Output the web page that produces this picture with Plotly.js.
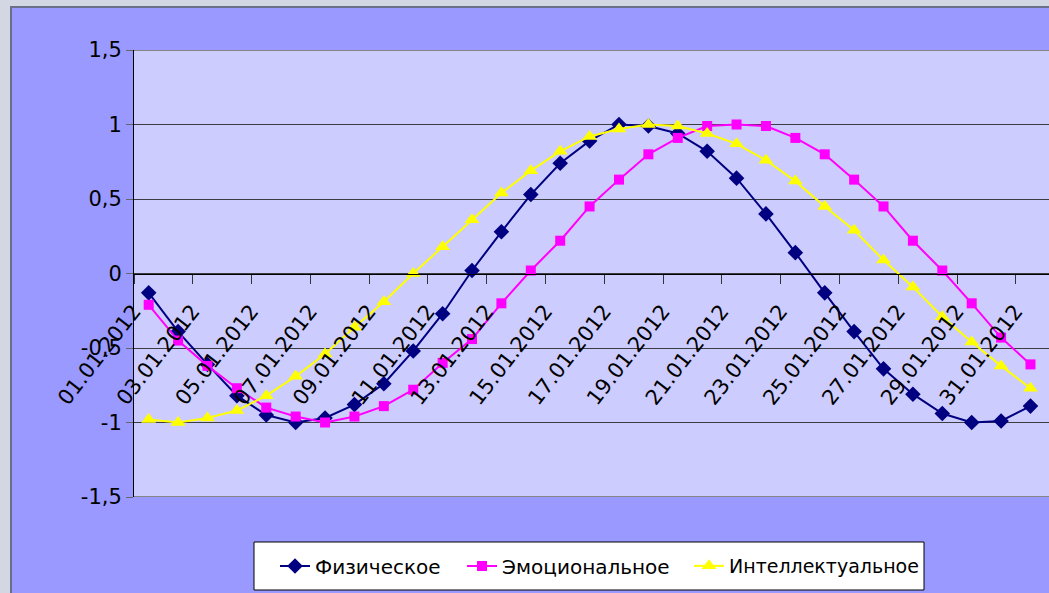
<!DOCTYPE html>
<html>
<head>
<meta charset="utf-8">
<script src="https://cdn.plot.ly/plotly-3.0.1.min.js"></script>
<style>
  html, body { margin: 0; padding: 0; background: #d3d7e3; overflow: hidden; width: 1049px; height: 593px; }
  #wrap { position: absolute; left: 10px; top: 6px; border-left: 2px solid #6b6f88; border-top: 2px solid #6b6f88; }
  #chart { width: 1037px; height: 585px; }
</style>
</head>
<body>
<div id="wrap"><div id="chart"></div></div>
<script>
const dates = ['01.01.2012','02.01.2012','03.01.2012','04.01.2012','05.01.2012','06.01.2012','07.01.2012','08.01.2012',
  '09.01.2012','10.01.2012','11.01.2012','12.01.2012','13.01.2012','14.01.2012','15.01.2012','16.01.2012',
  '17.01.2012','18.01.2012','19.01.2012','20.01.2012','21.01.2012','22.01.2012','23.01.2012','24.01.2012',
  '25.01.2012','26.01.2012','27.01.2012','28.01.2012','29.01.2012','30.01.2012','31.01.2012'];

const physical = [-0.13, -0.39, -0.61, -0.82, -0.95, -1.00, -0.97, -0.88, -0.74, -0.52, -0.27, 0.02,
  0.28, 0.53, 0.74, 0.89, 1.00, 0.99, 0.94, 0.82, 0.64, 0.40, 0.14, -0.13, -0.39, -0.64, -0.81, -0.94,
  -1.00, -0.99, -0.89];

const emotional = [-0.21, -0.45, -0.62, -0.77, -0.90, -0.96, -1.00, -0.96, -0.89, -0.78, -0.60, -0.44,
  -0.20, 0.02, 0.22, 0.45, 0.63, 0.80, 0.91, 0.99, 1.00, 0.99, 0.91, 0.80, 0.63, 0.45, 0.22, 0.02,
  -0.20, -0.43, -0.61];

const intellectual = [-0.98, -1.00, -0.97, -0.92, -0.82, -0.69, -0.54, -0.36, -0.19, 0.00, 0.18, 0.36,
  0.54, 0.69, 0.82, 0.92, 0.97, 1.00, 0.99, 0.94, 0.87, 0.76, 0.62, 0.45, 0.29, 0.09, -0.09, -0.29,
  -0.46, -0.62, -0.77];

const seriesNames = ['Физическое', 'Эмоциональное', 'Интеллектуальное'];

const yTickVals = [-1.5, -1, -0.5, 0, 0.5, 1, 1.5];
const yTickText = ['-1,5', '-1', '-0,5', '0', '0,5', '1', '1,5'];

const FONT = 'DejaVu Sans, sans-serif';

const traces = [
  { x: dates, y: physical, name: seriesNames[0], type: 'scatter', mode: 'lines+markers', legend: 'legend',
    line: { color: '#000080', width: 2 }, marker: { symbol: 'diamond', size: 12, color: '#000080' } },
  { x: dates, y: emotional, name: seriesNames[1], type: 'scatter', mode: 'lines+markers', legend: 'legend2',
    line: { color: '#ff00ff', width: 2 }, marker: { symbol: 'square', size: 10, color: '#ff00ff' } },
  { x: dates, y: intellectual, name: seriesNames[2], type: 'scatter', mode: 'lines+markers', legend: 'legend3',
    line: { color: '#ffff00', width: 2 }, marker: { symbol: 'triangle-up', size: 13, color: '#ffff00' } }
];

// plot area in chart-div pixels: left 122, width 915; top 42, height 447
const PL = 122, PW = 915, PB = 489, PH = 447;
const px = v => (v - 12 - PL) / PW;      // page x -> paper
const py = v => (PB - (v - 8)) / PH;     // page y -> paper

function leg(pageX, size) {
  return {
    orientation: 'h', x: px(pageX), y: py(566), xanchor: 'left', yanchor: 'middle',
    bgcolor: 'rgba(0,0,0,0)', borderwidth: 0,
    font: { family: FONT, size: size, color: '#000000' }
  };
}

const layout = {
  width: 1037, height: 585,
  paper_bgcolor: '#9999ff',
  plot_bgcolor: '#ccccff',
  margin: { l: PL, r: 0, t: 42, b: 96, pad: 0 },
  font: { family: FONT, size: 20, color: '#000000' },
  showlegend: true,
  legend: leg(275, 20),
  legend2: leg(462, 20),
  legend3: leg(689, 19),
  xaxis: {
    type: 'category',
    range: [-0.5, 30.63],
    anchor: 'free', position: 0.5,
    showline: true, linecolor: '#000000', linewidth: 1,
    showgrid: false, zeroline: false,
    tickson: 'boundaries', dtick: 2, tick0: 0,
    ticks: 'outside', ticklen: 9, tickcolor: '#333333', tickwidth: 1,
    tickangle: -52,
    ticklabelstandoff: 16,
    ticklabelshift: -15,
    tickfont: { family: FONT, size: 21, color: '#000000' },
    automargin: false
  },
  yaxis: {
    range: [-1.5, 1.5],
    tickmode: 'array', tickvals: yTickVals, ticktext: yTickText,
    showline: true, linecolor: '#000000', linewidth: 1,
    showgrid: true, gridcolor: '#3c3c44', gridwidth: 1,
    zeroline: false,
    ticks: 'outside', ticklen: 7, tickcolor: '#666666',
    tickfont: { family: FONT, size: 21, color: '#000000' },
    automargin: false
  },
  shapes: [
    { type: 'line', xref: 'paper', yref: 'y', x0: 0, x1: 1, y0: 1.5, y1: 1.5, line: { color: '#858585', width: 2 } },
    { type: 'line', xref: 'paper', yref: 'y', x0: 0, x1: 1, y0: -1.5, y1: -1.5, line: { color: '#858585', width: 2 } },
    { type: 'rect', xref: 'paper', yref: 'paper', layer: 'above',
      x0: px(254), x1: px(924), y0: py(590), y1: py(542),
      fillcolor: '#ffffff', line: { color: '#000000', width: 1 } }
  ]
};

Plotly.newPlot('chart', traces, layout, { displayModeBar: false, staticPlot: true });
</script>
</body>
</html>
